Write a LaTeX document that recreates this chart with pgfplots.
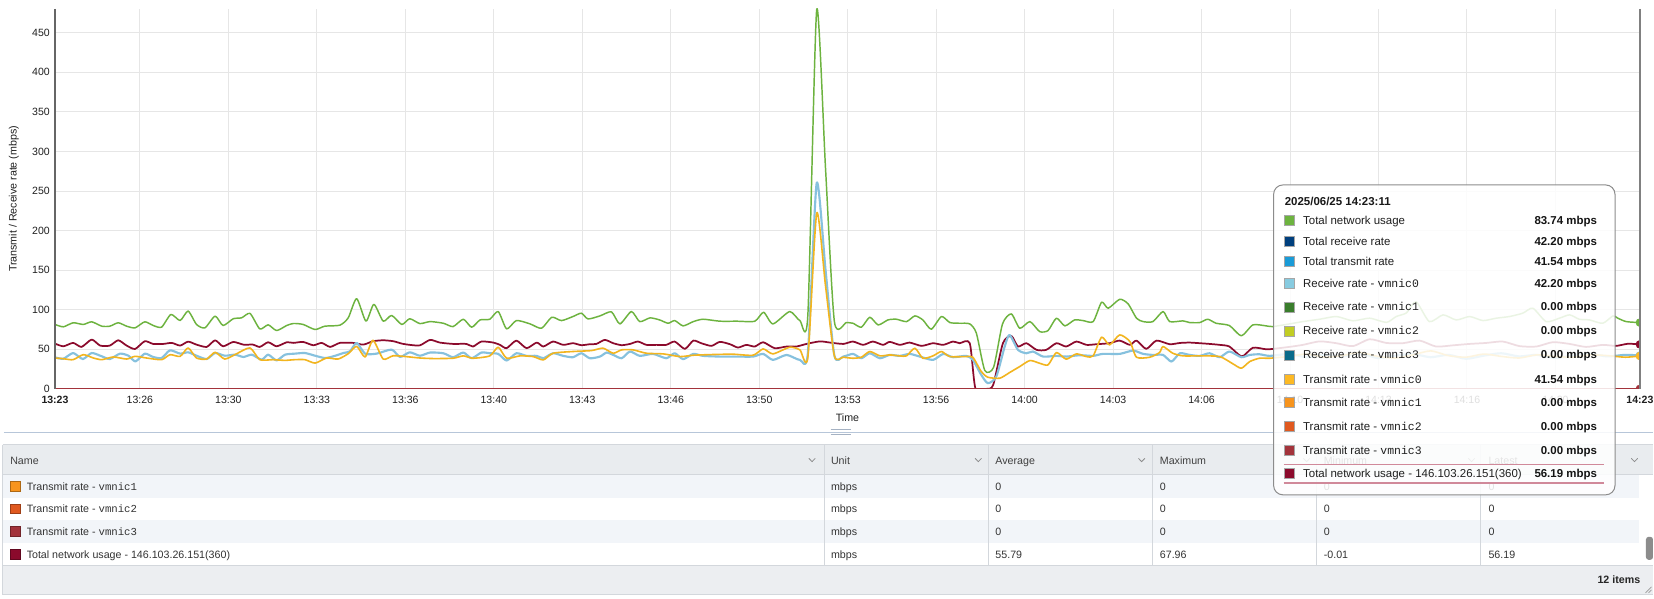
\documentclass[border=0pt]{standalone}
\usepackage{fontspec}
\setmainfont{Liberation Sans}
\setmonofont{Liberation Mono}
\usepackage{pgfplots}
\pgfplotsset{compat=1.18}

\definecolor{cgreen}{HTML}{6DB33F}
\definecolor{cmaroon}{HTML}{8B0A2C}
\definecolor{cltblue}{HTML}{86C1DE}
\definecolor{cyellow}{HTML}{F2B51F}
\definecolor{cbrick}{HTML}{A3333B}
\definecolor{gridgray}{HTML}{E6E6E6}
\definecolor{axisgray}{HTML}{666666}
\definecolor{tnu}{HTML}{6DB33F}
\definecolor{trr}{HTML}{003F7D}
\definecolor{ttr}{HTML}{1A9BD7}
\definecolor{rv0}{HTML}{87CBE0}
\definecolor{rv1}{HTML}{3A7D2C}
\definecolor{rv2}{HTML}{C1CD23}
\definecolor{rv3}{HTML}{0A6B8A}
\definecolor{tv0}{HTML}{FDB924}
\definecolor{tv1}{HTML}{F7941D}
\definecolor{tv2}{HTML}{E0591F}
\definecolor{tv3}{HTML}{A3333B}
\definecolor{tnh}{HTML}{8B0A2C}
\definecolor{thead}{HTML}{E9ECEF}
\definecolor{rowalt}{HTML}{F2F5F9}
\definecolor{tfoot}{HTML}{ECEEF1}
\definecolor{tline}{HTML}{D3D7DC}
\definecolor{sepblue}{HTML}{B7C6D9}
\definecolor{pinkline}{HTML}{D0899A}
\definecolor{txt}{HTML}{333333}

\newcommand{\fs}[1]{\fontsize{#1}{#1}\selectfont}

\newcommand{\ttrow}[4]{%
  \draw[fill=#2, draw=black!35, line width=0.5pt] (1284.5,#1-5) rectangle ++(10,10);
  \node[anchor=base west, inner sep=0pt, font=\fs{8.6pt}, text=black!88] at (1303.3,#1+4.1) {#3};
  \node[anchor=base east, inner sep=0pt, font=\bfseries\fs{8.6pt}, text=black!92] at (1597.7,#1+4.1) {#4};
}
\newcommand{\trow}[3]{%
  \draw[fill=#2, draw=#2!70!black, line width=0.5pt] (10.5,#1-5) rectangle ++(9.5,10);
  \node[anchor=base west, inner sep=0pt, font=\fs{8pt}, text=txt] at (26.5,#1+3.8) {#3};
  \node[anchor=base west, inner sep=0pt, font=\fs{8pt}, text=txt] at (831,#1+3.8) {mbps};
}
\newcommand{\tval}[2]{%
  \node[anchor=base west, inner sep=0pt, font=\fs{8pt}, text=txt] at (#1) {#2};
}

\begin{document}
\begin{tikzpicture}
\begin{scope}[x=0.75pt,y=-0.75pt,yshift=449.25pt]
\useasboundingbox (0,0) rectangle (1654,599);
\fill[white] (0,0) rectangle (1654,599);
\end{scope}

\begin{axis}[
  at={(41.25pt,157.5pt)}, anchor=south west,
  scale only axis, width=1189.05pt, height=285pt,
  xmin=0, xmax=3583, ymin=0, ymax=480,
  axis line style={draw=none},
  major tick length=0pt,
  xtick={0,192,392,592,792,992,1192,1392,1592,1792,1992,2192,2392,2592,2792,2992,3192,3392,3583},
  xticklabels={\textbf{13:23},13:26,13:30,13:33,13:36,13:40,13:43,13:46,13:50,13:53,13:56,14:00,14:03,14:06,14:10,14:13,14:16,14:20,\textbf{14:23}},
  ytick={0,50,100,150,200,250,300,350,400,450},
  grid=major, major grid style={color=gridgray, line width=0.75pt},
  ticklabel style={font=\fs{7.9pt}, text=black!88},
  yticklabel style={inner sep=0pt, xshift=-3.75pt},
  xticklabel style={inner sep=0pt, yshift=-5pt},
  /pgf/number format/assume math mode=true,
  xlabel={Time},
  xlabel style={at={(axis description cs:0.5,-0.0763)}, anchor=center, font=\fs{8pt}, text=black!88},
  ylabel={Transmit / Receive rate (mbps)},
  ylabel style={at={(axis description cs:-0.0259,0.5)}, anchor=center, font=\fs{8pt}, text=black!88},
  clip marker paths=true,
  every axis plot/.append style={line join=round, smooth, tension=0.4},
]
% Total network usage (green)
\addplot[color=cgreen, line width=1.1pt] coordinates {
(0,81.4)(19,78.4)(41,83.5)(64,81.4)(83,84.7)(106,79.2)(124,79.2)(143,83.5)(162,79.2)(181,77.1)(203,84.7)(222,80.1)(241,78)(262,94)(283,86.4)(301,98.3)(320,81.4)(339,77.1)(362,91.9)(380,80.1)(403,88.6)(422,89.8)(441,95.3)(463,75.8)(482,80.9)(501,73.7)(524,80.1)(539,82.6)(561,81.4)(588,75)(610,79.2)(644,80.5)(663,89.8)(682,114)(703,85.6)(721,106.8)(742,85.6)(761,92.8)(784,81.4)(802,88.6)(825,82.5)(848,85)(878,82.9)(900,78.7)(923,88)(942,77.9)(961,87.1)(983,88)(1002,97.7)(1021,75.8)(1043,86.3)(1074,82.1)(1100,76.6)(1123,90.5)(1145,86.3)(1171,91.4)(1190,95.6)(1205,88.4)(1232,92.2)(1258,97.3)(1277,82.1)(1303,97.7)(1322,85)(1345,89.7)(1367,87.1)(1386,82.9)(1401,86.3)(1420,79.6)(1443,85)(1465,88)(1503,85.5)(1541,85.5)(1582,85.5)(1602,96.8)(1623,82.1)(1661,97.7)(1684,86.3)(1702,93.5)(1722,479)(1742,278)(1762,85)(1789,83.8)(1804,82.9)(1823,77.9)(1842,90.5)(1861,80.8)(1883,87.1)(1902,88)(1925,85)(1944,92.2)(1962,87.1)(1981,75.4)(2004,91.4)(2023,83.8)(2045,82.9)(2068,82.1)(2083,70.3)(2102,23.2)(2122,27.4)(2142,82)(2162,94.7)(2181,76.6)(2204,85)(2226,72.4)(2245,73.7)(2264,89.3)(2283,79.6)(2305,87.1)(2324,86.3)(2347,85)(2366,109.5)(2381,101.9)(2407,113.2)(2426,107.4)(2445,89.3)(2460,85)(2482,85)(2505,97.7)(2520,85)(2550,85.9)(2565,83.8)(2588,83.8)(2606,88)(2625,82.9)(2655,80)(2682,67)(2708,80.8)(2738,79.6)(2753,78.7)(2790,82)(2821,85)(2859,88)(2897,91.4)(2934,86)(2972,89.3)(3010,84)(3032,91.4)(3055,96)(3077,110)(3107,85)(3138,93.5)(3168,87.1)(3198,91.4)(3228,86.3)(3258,89.3)(3288,91.4)(3318,95.6)(3341,101.9)(3371,85)(3401,89.3)(3424,93.5)(3446,88)(3469,87.1)(3499,82.9)(3522,92.2)(3533,89.3)(3552,85)(3583,83.74)};
% Total network usage - 146.103.26.151(360) (maroon)
\addplot[color=cmaroon, line width=1.3pt] coordinates {
(0,57.2)(19,53.8)(41,58.1)(60,53)(83,62.3)(102,54.7)(124,54.7)(143,61.4)(162,54.7)(181,50.4)(203,60.2)(222,56.8)(245,56.8)(264,58.1)(283,54.7)(301,59.7)(320,55.9)(343,53)(362,61.4)(380,53.8)(403,59.3)(426,55.9)(448,55.9)(463,53)(482,58.9)(501,53.8)(524,58.9)(539,58.1)(561,59.3)(584,55.1)(603,58.1)(622,53)(644,58.1)(674,58.1)(697,55.9)(719,60.2)(742,61.4)(765,60.2)(784,57.2)(802,55.6)(825,55)(848,61.9)(870,58.5)(900,56.8)(930,56.8)(945,53.5)(964,59.8)(991,58.5)(1006,55.6)(1021,51.4)(1043,61)(1066,51.4)(1089,58.5)(1104,53.5)(1126,59.8)(1149,55.6)(1171,57.7)(1190,55.2)(1209,56.4)(1224,56.8)(1243,61.9)(1262,57.7)(1281,55.2)(1300,56.8)(1318,59.8)(1337,55.6)(1360,55.6)(1382,55.6)(1401,59.8)(1424,50.5)(1443,61)(1461,57.7)(1484,54.3)(1503,59.4)(1526,56.4)(1544,52.2)(1563,55.6)(1582,53.5)(1601,58.9)(1627,51.4)(1654,53.5)(1676,53.5)(1699,56.8)(1729,60)(1752,58.5)(1782,56.8)(1804,59.8)(1827,55.6)(1849,59.8)(1872,55.6)(1887,59.4)(1910,55.6)(1932,58.5)(1959,54.3)(1985,57.7)(2008,55.6)(2030,59.8)(2045,57.7)(2068,57.7)(2081,0)(2106,0)(2121,5)(2143,57.7)(2162,66.9)(2177,53.5)(2196,57.7)(2219,49.3)(2241,49.3)(2264,57.7)(2286,53.5)(2309,59.8)(2332,55.6)(2354,56.4)(2384,57.7)(2407,61)(2430,55.6)(2445,61)(2467,50.5)(2490,61)(2520,56.4)(2543,58)(2565,58.5)(2588,57.7)(2610,56.8)(2633,55.6)(2655,53.5)(2683,41)(2708,52)(2738,50)(2753,50.5)(2790,53)(2821,55.6)(2859,60)(2897,57.7)(2934,54)(2972,62.7)(3010,58)(3047,57.7)(3085,61)(3122,53.5)(3160,55)(3198,56.8)(3235,58)(3273,59.8)(3311,54)(3349,53.5)(3386,59)(3424,56.8)(3461,53)(3499,55.6)(3529,54.3)(3556,57)(3583,56.19)};
% Receive rate - vmnic0 (light blue)
\addplot[color=cltblue, line width=1.6pt] coordinates {
(0,39.8)(19,38.1)(41,45.3)(63,37.7)(83,45.3)(106,41.1)(124,37.7)(147,44.5)(166,41.9)(182,34.7)(203,44.5)(222,40.3)(241,39)(260,48.7)(283,44.5)(301,46.2)(320,41.9)(343,37.7)(362,45.3)(384,41.9)(407,43.2)(426,40.3)(445,43.2)(467,36.9)(482,43.2)(501,36)(520,43.2)(542,44.5)(565,45.3)(588,41.9)(610,39)(629,41.1)(652,45.3)(667,47.5)(682,58.1)(701,44.5)(727,44.5)(761,49.6)(780,40.3)(802,46.2)(825,41.9)(848,45.9)(878,45)(900,40)(923,45.9)(942,38.7)(964,45.9)(983,45)(1002,44.2)(1021,35.8)(1043,45)(1066,41.7)(1089,41.7)(1104,38.7)(1126,45)(1149,41.7)(1171,40)(1190,45)(1209,38.7)(1232,40.8)(1247,45.9)(1262,42.9)(1281,38.7)(1300,47.2)(1322,41.7)(1352,44.2)(1382,38.7)(1401,45)(1420,37.5)(1443,44.2)(1465,41.7)(1503,40.8)(1541,40.8)(1578,40.8)(1601,44.2)(1623,36.6)(1654,42.9)(1684,36.6)(1702,45)(1722,260)(1742,150)(1762,42)(1782,40.8)(1804,44.2)(1823,38.7)(1842,45)(1865,38.7)(1887,42.9)(1910,41.7)(1932,44.2)(1955,40.8)(1985,36.6)(2008,44.2)(2030,40)(2060,41.7)(2075,36.6)(2094,17.7)(2109,7.2)(2128,15.6)(2147,53.5)(2158,68.2)(2177,49.3)(2196,45)(2211,47.2)(2234,40.8)(2264,41.7)(2286,40.8)(2317,42.5)(2347,41.7)(2369,44.2)(2407,44.2)(2437,48.4)(2460,44.2)(2482,42.9)(2505,42.9)(2524,34.5)(2543,45)(2565,42.9)(2588,41.7)(2610,45)(2633,40)(2655,47.2)(2682,40)(2701,42.9)(2723,43.7)(2746,41.7)(2790,44)(2830,40)(2870,43)(2910,41)(2950,45)(2990,39)(3030,42)(3070,44)(3110,40)(3150,43)(3190,38)(3230,42)(3270,45)(3310,41)(3350,43)(3390,39)(3430,42)(3470,44)(3510,41)(3550,43)(3583,42.2)};
% Transmit rate - vmnic0 (yellow)
\addplot[color=cyellow, line width=1.2pt] coordinates {
(0,39)(19,38.1)(41,36.9)(64,43.2)(87,39)(106,36.9)(132,40.3)(162,37.7)(181,41.1)(207,39)(241,36.9)(260,43.2)(283,41.1)(301,51.7)(320,39)(343,37.7)(362,46.2)(384,37.7)(411,44.5)(441,51.7)(463,36.9)(493,36.9)(520,36)(542,36.9)(565,36.9)(588,32.6)(614,39)(640,37.7)(663,44.5)(682,53.8)(701,40.3)(719,61.4)(742,37.7)(765,41.9)(802,40.3)(825,39)(855,38.3)(900,38.7)(923,41.7)(945,38.7)(983,41.7)(1002,52.6)(1021,38.7)(1051,41.7)(1081,40.8)(1104,36.6)(1126,45)(1171,47.2)(1213,48.4)(1239,51.4)(1262,45)(1281,49.3)(1307,49.3)(1337,45)(1375,44.2)(1413,40.8)(1443,42.5)(1488,43.4)(1533,43.8)(1578,42.5)(1601,50.5)(1623,44.2)(1661,52.6)(1684,49.3)(1702,40)(1722,222)(1742,130)(1762,41.7)(1782,40)(1804,38.7)(1823,40)(1842,47.2)(1865,41.7)(1887,42.9)(1910,41.7)(1925,41.7)(1944,51.4)(1962,38.7)(1985,41.7)(2004,47.2)(2023,40.8)(2060,40.8)(2075,40)(2094,21.9)(2109,14.7)(2136,13.5)(2158,20.6)(2181,28.2)(2204,35.8)(2226,32.4)(2245,30.3)(2264,45.9)(2286,37.5)(2309,44.2)(2332,40.8)(2347,41.7)(2366,65.3)(2384,55.6)(2407,68.2)(2430,59.8)(2445,40)(2475,40)(2497,45.9)(2505,53.5)(2527,45)(2550,41.7)(2588,41.7)(2633,40.8)(2663,31.6)(2682,26.1)(2701,34.5)(2723,38.7)(2746,38.7)(2790,41)(2830,44)(2870,40)(2910,42)(2950,46)(2990,41)(3030,39)(3070,43)(3110,48)(3150,42)(3190,40)(3230,44)(3270,41)(3310,39)(3350,43)(3390,41)(3430,40)(3470,43)(3510,42)(3550,40)(3583,41.54)};
% zero-valued series
\addplot[color=cbrick, line width=1.1pt, sharp plot] coordinates {(0,0) (3583,0)};
% last-point markers
\addplot[only marks, mark=*, mark size=3pt, color=cgreen] coordinates {(3583,83.74)};
\addplot[only marks, mark=*, mark size=3pt, color=cmaroon] coordinates {(3583,56.19)};
\addplot[only marks, mark=*, mark size=3pt, color=cltblue] coordinates {(3583,42.20)};
\addplot[only marks, mark=*, mark size=3pt, color=tv0] coordinates {(3583,41.54)};
\addplot[only marks, mark=*, mark size=3pt, color=cbrick] coordinates {(3583,0)};
\end{axis}

\begin{scope}[x=0.75pt,y=-0.75pt,yshift=449.25pt]
% axis line and crosshair
\draw[color=axisgray, line width=1.1pt] (55,9) -- (55,389);
\draw[color=black!50, line width=1.8pt] (1640.4,9) -- (1640.4,389);
% separator
\draw[color=sepblue, line width=0.8pt] (4,432.3) -- (1654,432.3);
\draw[color=sepblue!90!black, line width=0.7pt] (831,429.8) -- (851,429.8);
\draw[color=sepblue!90!black, line width=0.7pt] (831,434.6) -- (851,434.6);
% table
\fill[thead] (3,445) rectangle (1654,475);
\fill[rowalt] (3,475) rectangle (1640,498);
\fill[rowalt] (3,520) rectangle (1640,543);
\fill[tfoot] (3,566) rectangle (1654,595);
\draw[tline, line width=0.75pt] (3,445) -- (1654,445);
\draw[tline, line width=0.75pt] (3,475) -- (1654,475);
\draw[tline, line width=0.75pt] (3,566) -- (1654,566);
\draw[tline, line width=0.75pt] (3,595) -- (1654,595);
\draw[tline, line width=0.75pt] (3,445) -- (3,595);
\foreach \cx in {824.7,988.7,1152.8,1317.3,1481.4} {\draw[tline, line width=0.75pt] (\cx,445) -- (\cx,566);}
\foreach \ax in {812.3,978.6,1142,1307,1472,1635} {\draw[color=black!45, line width=0.6pt] (\ax-3.2,458.5) -- (\ax,461.8) -- (\ax+3.2,458.5);}
\node[anchor=base west, inner sep=0pt, font=\fs{8pt}, text=black!75] at (10,464.2) {Name};
\node[anchor=base west, inner sep=0pt, font=\fs{8pt}, text=black!75] at (831,464.2) {Unit};
\node[anchor=base west, inner sep=0pt, font=\fs{8pt}, text=black!75] at (995.5,464.2) {Average};
\node[anchor=base west, inner sep=0pt, font=\fs{8pt}, text=black!75] at (1160,464.2) {Maximum};
\node[anchor=base west, inner sep=0pt, font=\fs{8pt}, text=black!75] at (1324,464.2) {Minimum};
\node[anchor=base west, inner sep=0pt, font=\fs{8pt}, text=black!75] at (1488.7,464.2) {Latest};
\trow{486.5}{tv1}{Transmit rate - \texttt{vmnic1}}
\trow{509}{tv2}{Transmit rate - \texttt{vmnic2}}
\trow{532}{tv3}{Transmit rate - \texttt{vmnic3}}
\trow{555}{tnh}{Total network usage - 146.103.26.151(360)}
\tval{995.5,490.3}{0}\tval{1160,490.3}{0}\tval{1324,490.3}{0}\tval{1488.7,490.3}{0}
\tval{995.5,512.8}{0}\tval{1160,512.8}{0}\tval{1324,512.8}{0}\tval{1488.7,512.8}{0}
\tval{995.5,535.8}{0}\tval{1160,535.8}{0}\tval{1324,535.8}{0}\tval{1488.7,535.8}{0}
\tval{995.5,558.8}{55.79}\tval{1160,558.8}{67.96}\tval{1324,558.8}{-0.01}\tval{1488.7,558.8}{56.19}
\fill[black!45, rounded corners=2pt] (1646.5,537) rectangle (1653.5,560);
\node[anchor=base east, inner sep=0pt, font=\bfseries\fs{8pt}, text=black!85] at (1641,584) {12 items};
\draw[black!40, line width=0.5pt] (1646,593) -- (1652,587) (1649,593) -- (1652,590);
% tooltip
\draw[draw=black!45, fill=white, fill opacity=0.86, line width=0.75pt, rounded corners=7pt] (1274,185) rectangle (1615.5,495);
\node[anchor=base west, inner sep=0pt, font=\bfseries\fs{8.6pt}, text=black!90] at (1285,205.2) {2025/06/25 14:23:11};
\ttrow{220.7}{tnu}{Total network usage}{83.74 mbps}
\ttrow{241.7}{trr}{Total receive rate}{42.20 mbps}
\ttrow{261.7}{ttr}{Total transmit rate}{41.54 mbps}
\ttrow{283}{rv0}{Receive rate - \texttt{vmnic0}}{42.20 mbps}
\ttrow{307}{rv1}{Receive rate - \texttt{vmnic1}}{0.00 mbps}
\ttrow{331}{rv2}{Receive rate - \texttt{vmnic2}}{0.00 mbps}
\ttrow{355}{rv3}{Receive rate - \texttt{vmnic3}}{0.00 mbps}
\ttrow{379.3}{tv0}{Transmit rate - \texttt{vmnic0}}{41.54 mbps}
\ttrow{402.7}{tv1}{Transmit rate - \texttt{vmnic1}}{0.00 mbps}
\ttrow{426.7}{tv2}{Transmit rate - \texttt{vmnic2}}{0.00 mbps}
\ttrow{450.7}{tv3}{Transmit rate - \texttt{vmnic3}}{0.00 mbps}
\draw[color=pinkline, line width=1.1pt] (1284,464.5) -- (1604,464.5);
\draw[color=pinkline, line width=1.1pt] (1284,483) -- (1604,483);
\ttrow{473.5}{tnh}{Total network usage - 146.103.26.151(360)}{56.19 mbps}
\end{scope}
\end{tikzpicture}
\end{document}
